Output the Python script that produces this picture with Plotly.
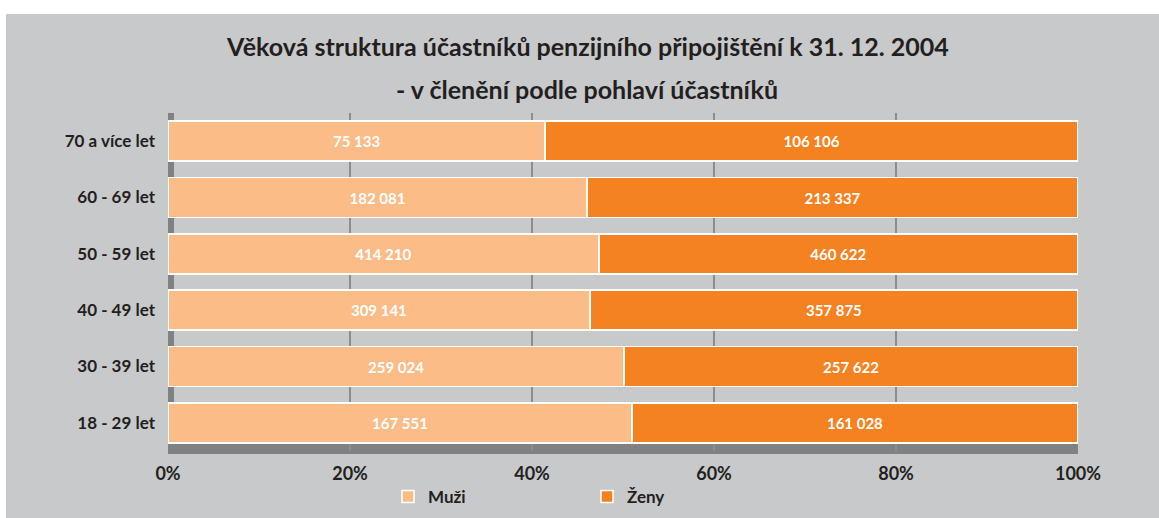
import plotly.graph_objects as go

categories = ["18 - 29 let", "30 - 39 let", "40 - 49 let", "50 - 59 let", "60 - 69 let", "70 a více let"]
muzi = [167551, 259024, 309141, 414210, 182081, 75133]
zeny = [161028, 257622, 357875, 460622, 213337, 106106]
tick_vals = [0, 20, 40, 60, 80, 100]
tick_text = ["0%", "20%", "40%", "60%", "80%", "100%"]
title1 = "Věková struktura účastníků penzijního připojištění k 31. 12. 2004"
title2 = "- v členění podle pohlaví účastníků"

C_M = "#FBBC87"
C_Z = "#F58220"
BG = "#C8C9CB"
WALL = "#808183"
DARK = "#231F20"
FONT = "Lato"

def fmt(v):
    return f"{v:,}".replace(",", " ")

fig = go.Figure()
fig.add_trace(go.Bar(
    y=categories, x=muzi, orientation="h", name="Muži",
    marker=dict(color=C_M, line=dict(color="white", width=1.5)),
    text=[fmt(v) for v in muzi], textposition="inside", insidetextanchor="middle",
    textfont=dict(color="white", size=15, family=FONT, weight="bold"),
    hoverinfo="skip",
))
fig.add_trace(go.Bar(
    y=categories, x=zeny, orientation="h", name="Ženy",
    marker=dict(color=C_Z, line=dict(color="white", width=1.5)),
    text=[fmt(v) for v in zeny], textposition="inside", insidetextanchor="middle",
    textfont=dict(color="white", size=15, family=FONT, weight="bold"),
    hoverinfo="skip",
))

fig.update_layout(
    width=1159, height=518,
    barmode="stack", barnorm="percent", bargap=0.29,
    paper_bgcolor=BG, plot_bgcolor=BG,
    margin=dict(l=168, r=81, t=113, b=67, pad=0, autoexpand=False),
    font=dict(family=FONT, color=DARK),
    uniformtext=dict(minsize=8, mode="show"),
    showlegend=True,
    legend=dict(
        orientation="h", x=(388 - 168) / 910, xanchor="left",
        y=(518 - 497) / 518, yref="container", yanchor="middle",
        traceorder="normal", entrywidth=154, entrywidthmode="pixels",
        font=dict(size=17, family=FONT, weight="bold", color=DARK),
        bgcolor="rgba(0,0,0,0)",
    ),
    xaxis=dict(
        range=[0, 100], tickvals=tick_vals, ticktext=tick_text,
        showgrid=True, gridcolor="#8C8D8F", gridwidth=1.5,
        zeroline=False, showline=False, ticks="",
        ticklabelstandoff=10, automargin=False,
        tickfont=dict(size=18, family=FONT, weight="bold", color=DARK),
        fixedrange=True,
    ),
    yaxis=dict(
        categoryorder="array", categoryarray=categories,
        showgrid=False, zeroline=False, showline=False, ticks="",
        ticklabelstandoff=12, automargin=False,
        tickfont=dict(size=17, family=FONT, weight="bold", color=DARK),
        fixedrange=True,
    ),
)

# 3D wall (left) and floor (bottom)
fig.add_shape(type="rect", xref="x", yref="paper", layer="below",
              x0=-4 / 9.1, x1=6 / 9.1, y0=-3 / 338, y1=1.0,
              fillcolor=WALL, line=dict(width=0))
fig.add_shape(type="rect", xref="x", yref="paper", layer="below",
              x0=-4 / 9.1, x1=100.08, y0=-3 / 338, y1=7 / 338,
              fillcolor=WALL, line=dict(width=0))
# white page strips outside the grey panel
fig.add_shape(type="rect", xref="paper", yref="paper", layer="above",
              x0=-168 / 910, x1=(1159 - 168) / 910, y0=(451 - 14) / 338, y1=(451) / 338 + 1,
              fillcolor="white", line=dict(width=0))
fig.add_shape(type="rect", xref="paper", yref="paper", layer="above",
              x0=-168 / 910, x1=(6 - 168) / 910, y0=-1, y1=3,
              fillcolor="white", line=dict(width=0))

fig.add_annotation(text=title1, xref="paper", yref="paper",
                   x=(587 - 168) / 910, y=(451 - 46) / 338, xanchor="center", yanchor="middle",
                   showarrow=False, font=dict(size=25, family=FONT, weight="bold", color=DARK))
fig.add_annotation(text=title2, xref="paper", yref="paper",
                   x=(587 - 168) / 910, y=(451 - 89) / 338, xanchor="center", yanchor="middle",
                   showarrow=False, font=dict(size=25, family=FONT, weight="bold", color=DARK))

fig.write_html("out.html", config={"displayModeBar": False},
               post_script="document.body.style.margin='0';document.body.style.overflow='hidden';")
